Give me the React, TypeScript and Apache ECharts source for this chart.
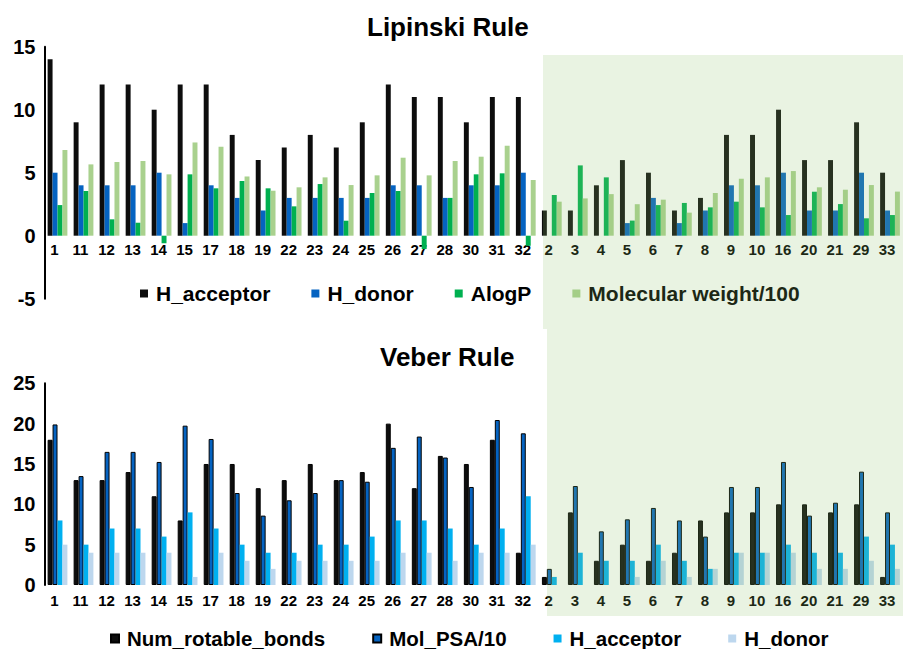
import React, { useEffect, useRef } from "react";
import * as echarts from "echarts";

const categories = ["1","11","12","13","14","15","17","18","19","22","23","24","25","26","27","28","30","31","32","2","3","4","5","6","7","8","9","10","16","20","21","29","33"];

// Lipinski Rule
const lipHAcceptor = [14,9,12,12,10,12,12,8,6,7,8,7,9,12,11,11,9,11,11, 2,2,4,6,5,2,3,8,8,10,6,6,9,5];
const lipHDonor = [5,4,4,4,5,1,4,3,2,3,3,3,3,4,4,3,4,4,5, 0,0,0,1,3,1,2,4,4,5,2,2,5,2];
const lipAlogP = [2.43,3.55,1.3,1.03,-0.6,4.87,3.76,4.34,3.76,2.33,4.1,1.19,3.39,3.55,-1.06,3.0,4.87,4.95,-0.8, 3.23,5.58,4.63,1.2,2.43,2.6,2.25,2.7,2.25,1.64,3.49,2.51,1.38,1.64];
const lipMw100 = [6.8,5.66,5.85,5.93,4.87,7.4,7.06,4.7,3.57,3.84,4.63,4.02,4.79,6.19,4.79,5.93,6.27,7.14,4.42, 2.7,2.96,3.3,2.5,2.86,1.83,3.39,4.52,4.63,5.13,3.84,3.65,4.02,3.5];

// Veber Rule
const vebRotBonds = [18,13,13,14,11,8,15,15,12,13,15,13,14,20,12,16,15,18,4, 1,9,3,5,3,4,8,9,9,10,10,9,10,1];
const vebPsa10 = [19.9,13.5,16.5,16.5,15.25,19.75,18.1,11.4,8.6,10.5,11.4,13,12.8,17,18.4,15.8,12.15,20.45,18.8, 2,12.27,6.65,8.14,9.55,8,6,12.15,12.15,15.25,8.6,10.2,14.05,9];
const vebHAcceptor = [8,5,7,7,6,9,7,5,4,4,5,5,6,8,8,7,5,7,11, 1,4,3,3,5,3,2,4,4,5,4,4,6,5];
const vebHDonor = [5,4,4,4,4,1,4,3,2,3,3,3,3,4,4,3,4,4,5, 0,0,0,1,3,1,2,4,4,4,2,2,3,2];

const topYTicks = { min: -5, max: 15, interval: 5 };
const bottomYTicks = { min: 0, max: 25, interval: 5 };

const FONT = "'Liberation Sans', Arial, sans-serif";

export default function App() {
  const ref = useRef<HTMLDivElement>(null);
  useEffect(() => {
    if (!ref.current) return;
    const chart = echarts.init(ref.current, undefined, { renderer: "svg" });
    const topGridHeight = 252;
    // distance from grid bottom (min) to the zero line
    const topZeroOffset = (topGridHeight * (0 - topYTicks.min)) / (topYTicks.max - topYTicks.min);
    const xLabel = (margin: number) => ({
      interval: 0,
      fontSize: 15,
      fontWeight: "bold" as const,
      color: "#000",
      fontFamily: FONT,
      margin,
      padding: [0, 6, 0, 0],
    });
    const xAxisLine = { show: false, onZero: false };
    const yAxisCommon = {
      type: "value" as const,
      splitLine: { show: false },
      axisTick: { show: false },
      axisLine: { show: true, lineStyle: { color: "#000", width: 2 } },
      axisLabel: { fontSize: 20, fontWeight: "bold" as const, color: "#000", fontFamily: FONT, margin: 9 },
    };
    const barCommon = { type: "bar" as const, barGap: "0%", barCategoryGap: "24%" };
    chart.setOption({
      animation: false,
      backgroundColor: "#fff",
      title: [
        { text: "Lipinski Rule", left: 362, top: 9, textStyle: { fontSize: 26, fontWeight: "bold", color: "#000", fontFamily: FONT } },
        { text: "Veber Rule", left: 375, top: 339, textStyle: { fontSize: 26, fontWeight: "bold", color: "#000", fontFamily: FONT } },
      ],
      grid: [
        { left: 44.5, right: -9, top: 46.7, height: topGridHeight },
        { left: 44.5, right: -9, top: 383.3, height: 201.7 },
      ],
      xAxis: [
        { type: "category", gridIndex: 0, position: "bottom", offset: -topZeroOffset, data: categories, axisLine: xAxisLine, axisTick: { show: false }, axisLabel: xLabel(6) },
        { type: "category", gridIndex: 1, position: "bottom", data: categories, axisLine: xAxisLine, axisTick: { show: false }, axisLabel: xLabel(8) },
      ],
      yAxis: [
        { ...yAxisCommon, gridIndex: 0, ...topYTicks },
        { ...yAxisCommon, gridIndex: 1, ...bottomYTicks },
      ],
      legend: [
        {
          left: 135, top: 278, itemWidth: 8, itemHeight: 8, itemGap: 41, icon: "rect",
          data: ["H_acceptor", "H_donor", "AlogP", "Molecular weight/100"],
          textStyle: { fontSize: 21, fontWeight: "bold", color: "#000", fontFamily: FONT, padding: [0, 0, 0, 3] },
        },
        {
          left: 105, top: 623, itemWidth: 8, itemHeight: 8, itemGap: 47, icon: "rect",
          data: ["Num_rotable_bonds", "Mol_PSA/10", "H_acceptor ", "H_donor "],
          formatter: (n: string) => n.trim(),
          textStyle: { fontSize: 20.5, fontWeight: "bold", color: "#000", fontFamily: FONT, padding: [0, 0, 0, 3] },
        },
      ],
      series: [
        { ...barCommon, name: "H_acceptor", xAxisIndex: 0, yAxisIndex: 0, data: lipHAcceptor, itemStyle: { color: "#0d0d0d" } },
        { ...barCommon, name: "H_donor", xAxisIndex: 0, yAxisIndex: 0, data: lipHDonor, itemStyle: { color: "#0563C1" } },
        { ...barCommon, name: "AlogP", xAxisIndex: 0, yAxisIndex: 0, data: lipAlogP, itemStyle: { color: "#00B050" } },
        { ...barCommon, name: "Molecular weight/100", xAxisIndex: 0, yAxisIndex: 0, data: lipMw100, itemStyle: { color: "#A9D18E" } },
        { ...barCommon, name: "Num_rotable_bonds", xAxisIndex: 1, yAxisIndex: 1, data: vebRotBonds, itemStyle: { color: "#0d0d0d", borderColor: "#000", borderWidth: 1 } },
        { ...barCommon, name: "Mol_PSA/10", xAxisIndex: 1, yAxisIndex: 1, data: vebPsa10, itemStyle: { color: "#0563C1", borderColor: "#000", borderWidth: 1 } },
        { ...barCommon, name: "H_acceptor ", xAxisIndex: 1, yAxisIndex: 1, data: vebHAcceptor, itemStyle: { color: "#00B0F0" } },
        { ...barCommon, name: "H_donor ", xAxisIndex: 1, yAxisIndex: 1, data: vebHDonor, itemStyle: { color: "#BDD7EE" } },
      ],
      graphic: [
        { type: "rect", z: 100, silent: true, shape: { x: 543, y: 55, width: 370, height: 274 }, style: { fill: "rgba(146,196,112,0.2)" } },
        { type: "rect", z: 100, silent: true, shape: { x: 547, y: 329, width: 366, height: 287 }, style: { fill: "rgba(146,196,112,0.2)" } },
      ],
    });
    return () => chart.dispose();
  }, []);
  return (
    <div style={{ position: "fixed", left: 0, top: 0, width: 903, height: 649, overflow: "hidden", background: "#fff" }}>
      <div ref={ref} style={{ width: 903, height: 649 }} />
    </div>
  );
}
